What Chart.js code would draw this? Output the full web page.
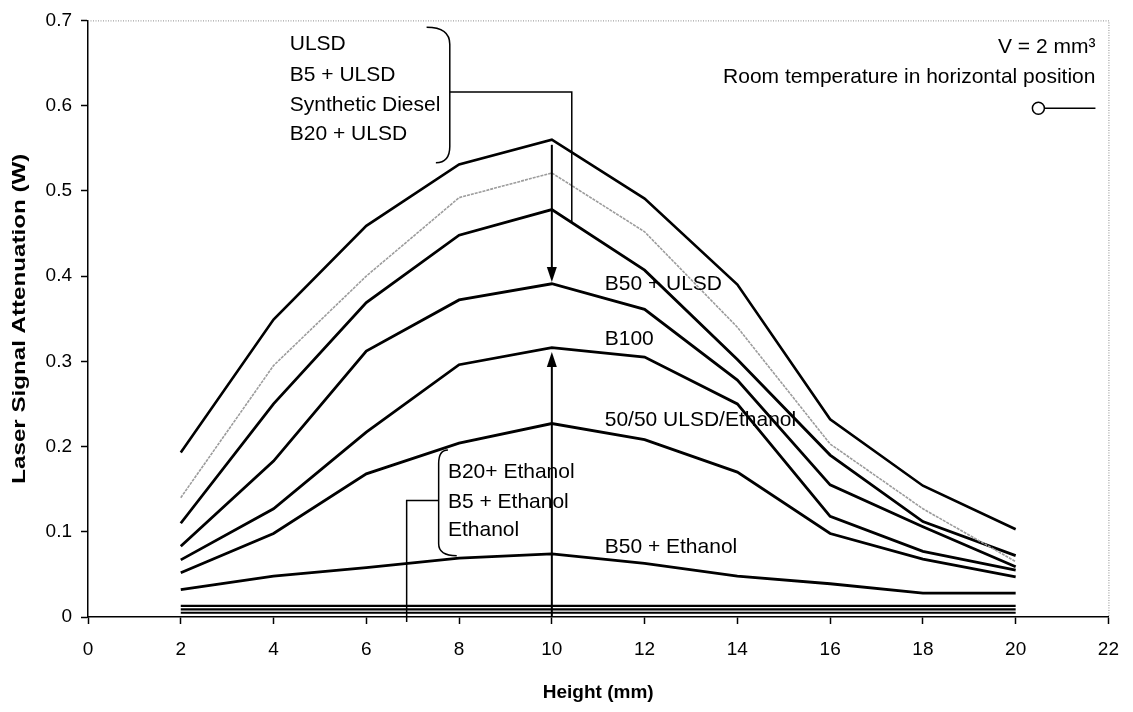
<!DOCTYPE html>
<html>
<head>
<meta charset="utf-8">
<script src="https://cdn.jsdelivr.net/npm/chart.js@4.4.1/dist/chart.umd.min.js"></script>
<style>
    html, body { margin: 0; padding: 0; background: #fff; }
    #wrap { width: 1133px; height: 712px; }
</style>
</head>
<body>
<div id="wrap"><canvas id="chart" width="1133" height="712"></canvas></div>
<script>
// Data: height (mm) vs laser signal attenuation (W)
const heights = [2, 4, 6, 8, 10, 12, 14, 16, 18, 20];

const ulsd        = [0.193, 0.349, 0.459, 0.531, 0.560, 0.491, 0.390, 0.232, 0.154, 0.103];
const b5Ulsd      = [0.140, 0.295, 0.400, 0.492, 0.521, 0.452, 0.340, 0.203, 0.127, 0.065];
const synDiesel   = [0.110, 0.250, 0.369, 0.448, 0.478, 0.407, 0.302, 0.190, 0.112, 0.072];
const b50Ulsd     = [0.083, 0.183, 0.312, 0.372, 0.391, 0.361, 0.278, 0.155, 0.106, 0.059];
const b100        = [0.067, 0.127, 0.217, 0.296, 0.316, 0.305, 0.250, 0.118, 0.077, 0.055];
const ulsdEthanol = [0.052, 0.098, 0.168, 0.204, 0.227, 0.208, 0.170, 0.098, 0.068, 0.047];
const b50Ethanol  = [0.032, 0.048, 0.058, 0.069, 0.074, 0.063, 0.048, 0.039, 0.028, 0.028];
const b20Ethanol  = [0.013, 0.013, 0.013, 0.013, 0.013, 0.013, 0.013, 0.013, 0.013, 0.013];
const b5Ethanol   = [0.009, 0.009, 0.009, 0.009, 0.009, 0.009, 0.009, 0.009, 0.009, 0.009];
const ethanol     = [0.005, 0.005, 0.005, 0.005, 0.005, 0.005, 0.005, 0.005, 0.005, 0.005];

const xTicks = [0, 2, 4, 6, 8, 10, 12, 14, 16, 18, 20, 22];
const yTicks = [0, 0.1, 0.2, 0.3, 0.4, 0.5, 0.6, 0.7];

const FONT = '"Liberation Sans", Arial, sans-serif';

const toPoints = vals => vals.map((v, i) => ({ x: heights[i], y: v }));

function series(label, vals, color, width, dash) {
    return {
        label,
        data: toPoints(vals),
        borderColor: color,
        borderWidth: width,
        borderDash: dash || [],
        pointRadius: 0,
        fill: false,
        tension: 0
    };
}

// Annotations: text, brackets, arrows, frame, stretched y title
const annotations = {
    id: 'annotations',
    afterDatasetsDraw(chart) {
        const { ctx, chartArea } = chart;
        const xs = chart.scales.x, ys = chart.scales.y;
        const X = v => xs.getPixelForValue(v);
        const Y = v => ys.getPixelForValue(v);

        ctx.save();

        // dotted top / right frame
        ctx.strokeStyle = '#8a8a8a';
        ctx.lineWidth = 1;
        ctx.setLineDash([1, 1.5]);
        ctx.beginPath();
        ctx.moveTo(chartArea.left, chartArea.top + 0.5);
        ctx.lineTo(chartArea.right + 0.5, chartArea.top + 0.5);
        ctx.lineTo(chartArea.right + 0.5, chartArea.bottom);
        ctx.stroke();
        ctx.setLineDash([]);

        // y axis title (stretched like the scan)
        ctx.save();
        ctx.fillStyle = '#000';
        ctx.font = 'bold 19px ' + FONT;
        ctx.textAlign = 'center';
        ctx.textBaseline = 'middle';
        const yTitle = 'Laser Signal Attenuation (W)';
        const stretch = 330 / ctx.measureText(yTitle).width;
        ctx.translate(20, (chartArea.top + chartArea.bottom) / 2);
        ctx.rotate(-Math.PI / 2);
        ctx.scale(stretch, 1);
        ctx.fillText(yTitle, 0, 0);
        ctx.restore();

        ctx.fillStyle = '#000';
        ctx.strokeStyle = '#000';
        ctx.font = '21px ' + FONT;
        ctx.textBaseline = 'middle';
        ctx.textAlign = 'left';

        const text = (s, x, y) => ctx.fillText(s, X(x), Y(y));

        // upper group
        text('ULSD', 4.35, 0.672);
        text('B5 + ULSD', 4.35, 0.636);
        text('Synthetic Diesel', 4.35, 0.601);
        text('B20 + ULSD', 4.35, 0.567);

        // right-hand labels
        text('B50 + ULSD', 11.14, 0.390);
        text('B100', 11.14, 0.326);
        text('50/50 ULSD/Ethanol', 11.14, 0.231);
        text('B50 + Ethanol', 11.14, 0.082);

        // lower group
        text('B20+ Ethanol', 7.76, 0.1695);
        text('B5 + Ethanol', 7.76, 0.1344);
        text('Ethanol', 7.76, 0.1017);

        // top right note
        ctx.textAlign = 'right';
        text('V = 2 mm\u00B3', 21.72, 0.668);
        text('Room temperature in horizontal position', 21.72, 0.633);

        // legend sample: open circle with line
        ctx.lineWidth = 1.5;
        ctx.beginPath();
        ctx.moveTo(X(20.62), Y(0.597));
        ctx.lineTo(X(21.72), Y(0.597));
        ctx.stroke();
        ctx.beginPath();
        ctx.arc(X(20.49), Y(0.597), 6, 0, Math.PI * 2);
        ctx.fillStyle = '#fff';
        ctx.fill();
        ctx.stroke();
        ctx.fillStyle = '#000';

        // upper bracket and leader
        ctx.lineWidth = 1.5;
        ctx.beginPath();
        ctx.moveTo(X(7.30), Y(0.692));
        ctx.quadraticCurveTo(X(7.80), Y(0.692), X(7.80), Y(0.672));
        ctx.lineTo(X(7.80), Y(0.552));
        ctx.quadraticCurveTo(X(7.80), Y(0.533), X(7.50), Y(0.533));
        ctx.stroke();
        ctx.beginPath();
        ctx.moveTo(X(7.80), Y(0.616));
        ctx.lineTo(X(10.43), Y(0.616));
        ctx.lineTo(X(10.43), Y(0.463));
        ctx.stroke();

        // lower bracket and leader
        ctx.beginPath();
        ctx.moveTo(X(7.76), Y(0.196));
        ctx.quadraticCurveTo(X(7.56), Y(0.196), X(7.56), Y(0.180));
        ctx.lineTo(X(7.56), Y(0.086));
        ctx.quadraticCurveTo(X(7.56), Y(0.072), X(7.95), Y(0.072));
        ctx.stroke();
        ctx.beginPath();
        ctx.moveTo(X(7.56), Y(0.1367));
        ctx.lineTo(X(6.87), Y(0.1367));
        ctx.lineTo(X(6.87), Y(-0.006));
        ctx.stroke();

        // arrows at x = 10
        function arrow(x, y0, y1) {
            const px = X(x), p0 = Y(y0), p1 = Y(y1);
            const dir = p1 > p0 ? 1 : -1;
            ctx.lineWidth = 2;
            ctx.beginPath();
            ctx.moveTo(px, p0);
            ctx.lineTo(px, p1 - dir * 12);
            ctx.stroke();
            ctx.beginPath();
            ctx.moveTo(px, p1);
            ctx.lineTo(px - 5, p1 - dir * 15);
            ctx.lineTo(px + 5, p1 - dir * 15);
            ctx.closePath();
            ctx.fill();
        }
        arrow(10, 0.554, 0.393);
        arrow(10, 0, 0.311);

        ctx.restore();
    }
};

const ctx = document.getElementById('chart').getContext('2d');
new Chart(ctx, {
    type: 'line',
    data: {
        datasets: [
            series('ULSD', ulsd, '#000', 2.6),
            series('B5 + ULSD', b5Ulsd, '#9c9c9c', 1.6, [3, 1]),
            series('Synthetic Diesel', synDiesel, '#000', 2.8),
            series('B50 + ULSD', b50Ulsd, '#000', 2.8),
            series('B100', b100, '#000', 2.8),
            series('50/50 ULSD/Ethanol', ulsdEthanol, '#000', 2.8),
            series('B50 + Ethanol', b50Ethanol, '#000', 2.8),
            series('B20+ Ethanol', b20Ethanol, '#000', 2.2),
            series('B5 + Ethanol', b5Ethanol, '#000', 2.2),
            series('Ethanol', ethanol, '#000', 2.2)
        ]
    },
    options: {
        responsive: false,
        animation: false,
        layout: { padding: { top: 18, right: 24, left: 0, bottom: 0 } },
        plugins: {
            legend: { display: false },
            tooltip: { enabled: false }
        },
        scales: {
            x: {
                type: 'linear',
                min: 0,
                max: 22,
                afterBuildTicks: s => { s.ticks = xTicks.map(v => ({ value: v })); },
                afterFit: s => { s.height = 95; },
                grid: { drawOnChartArea: false, drawTicks: true, tickLength: 7, tickColor: '#000', tickWidth: 1.5 },
                border: { color: '#000', width: 1.5 },
                ticks: {
                    color: '#000',
                    font: { family: FONT, size: 19 },
                    padding: 14,
                    maxRotation: 0,
                    callback: v => String(v)
                },
                title: {
                    display: true,
                    text: 'Height (mm)',
                    color: '#000',
                    font: { family: FONT, size: 19, weight: 'bold' },
                    padding: { top: 0, bottom: 8 }
                }
            },
            y: {
                min: 0,
                max: 0.7,
                afterBuildTicks: s => { s.ticks = yTicks.map(v => ({ value: v })); },
                afterFit: s => { s.width = 88; },
                grid: { drawOnChartArea: false, drawTicks: true, tickLength: 7, tickColor: '#000', tickWidth: 1.5 },
                border: { color: '#000', width: 1.5 },
                ticks: {
                    color: '#000',
                    font: { family: FONT, size: 19 },
                    padding: 9,
                    callback: v => (v === 0 ? '0' : v.toFixed(1))
                }
            }
        }
    },
    plugins: [annotations]
});
</script>
</body>
</html>
